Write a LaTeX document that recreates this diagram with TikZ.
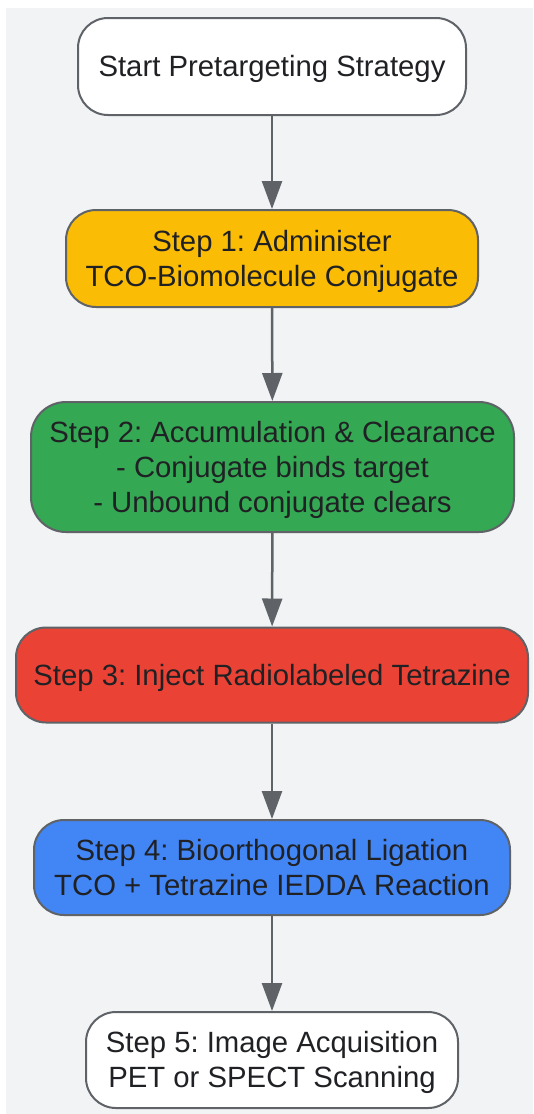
\documentclass[tikz,border=0pt]{standalone}
\usepackage{fontspec}
\setmainfont{Liberation Sans}
\usetikzlibrary{arrows.meta}
\definecolor{bgpanel}{HTML}{F1F3F4}
\definecolor{edgegray}{HTML}{5F6368}
\definecolor{txt}{HTML}{202124}
\definecolor{cyellow}{HTML}{FBBC05}
\definecolor{cgreen}{HTML}{34A853}
\definecolor{cred}{HTML}{EA4335}
\definecolor{cblue}{HTML}{4285F4}
\newcommand{\ms}{\rule[-6pt]{0pt}{33pt}}
\tikzset{
  box/.style={draw=edgegray, line width=2pt, rounded corners=30pt, align=center,
    text=txt, font=\fontsize{29.3}{35}\selectfont\frenchspacing, inner sep=0pt},
  conn/.style={draw=edgegray, line width=2.5pt, -{Triangle[length=28pt,width=20pt]}}
}
\begin{document}
\begin{tikzpicture}[x=1pt,y=-1pt]
\useasboundingbox (0,0) rectangle (533,1114);
\fill[bgpanel] (6,8) rectangle (533,1114);
\node[box, fill=white, minimum width=388pt, minimum height=97pt] (s0) at (272,66.5) {\ms Start Pretargeting Strategy};
\node[box, fill=cyellow, minimum width=412pt, minimum height=97pt] (s1) at (272,258.5) {\ms Step 1: Administer\\\ms TCO-Biomolecule Conjugate};
\node[box, fill=cgreen, minimum width=483pt, minimum height=130pt, rounded corners=35pt] (s2) at (272.5,467) {\ms Step 2: Accumulation \& Clearance\\\ms - Conjugate binds target\\\ms - Unbound conjugate clears};
\node[box, fill=cred, minimum width=512pt, minimum height=95pt] (s3) at (272,675) {\ms Step 3: Inject Radiolabeled Tetrazine};
\node[box, fill=cblue, minimum width=476pt, minimum height=95pt] (s4) at (272,867.5) {\ms Step 4: Bioorthogonal Ligation\\\ms TCO + Tetrazine IEDDA Reaction};
\node[box, fill=white, minimum width=372pt, minimum height=96pt] (s5) at (272,1060) {\ms Step 5: Image Acquisition\\\ms PET or SPECT Scanning};
\draw[conn] (s0) -- (s1);
\draw[conn] (s1) -- (s2);
\draw[conn] (s2) -- (s3);
\draw[conn] (s3) -- (s4);
\draw[conn] (s4) -- (s5);
\end{tikzpicture}
\end{document}
